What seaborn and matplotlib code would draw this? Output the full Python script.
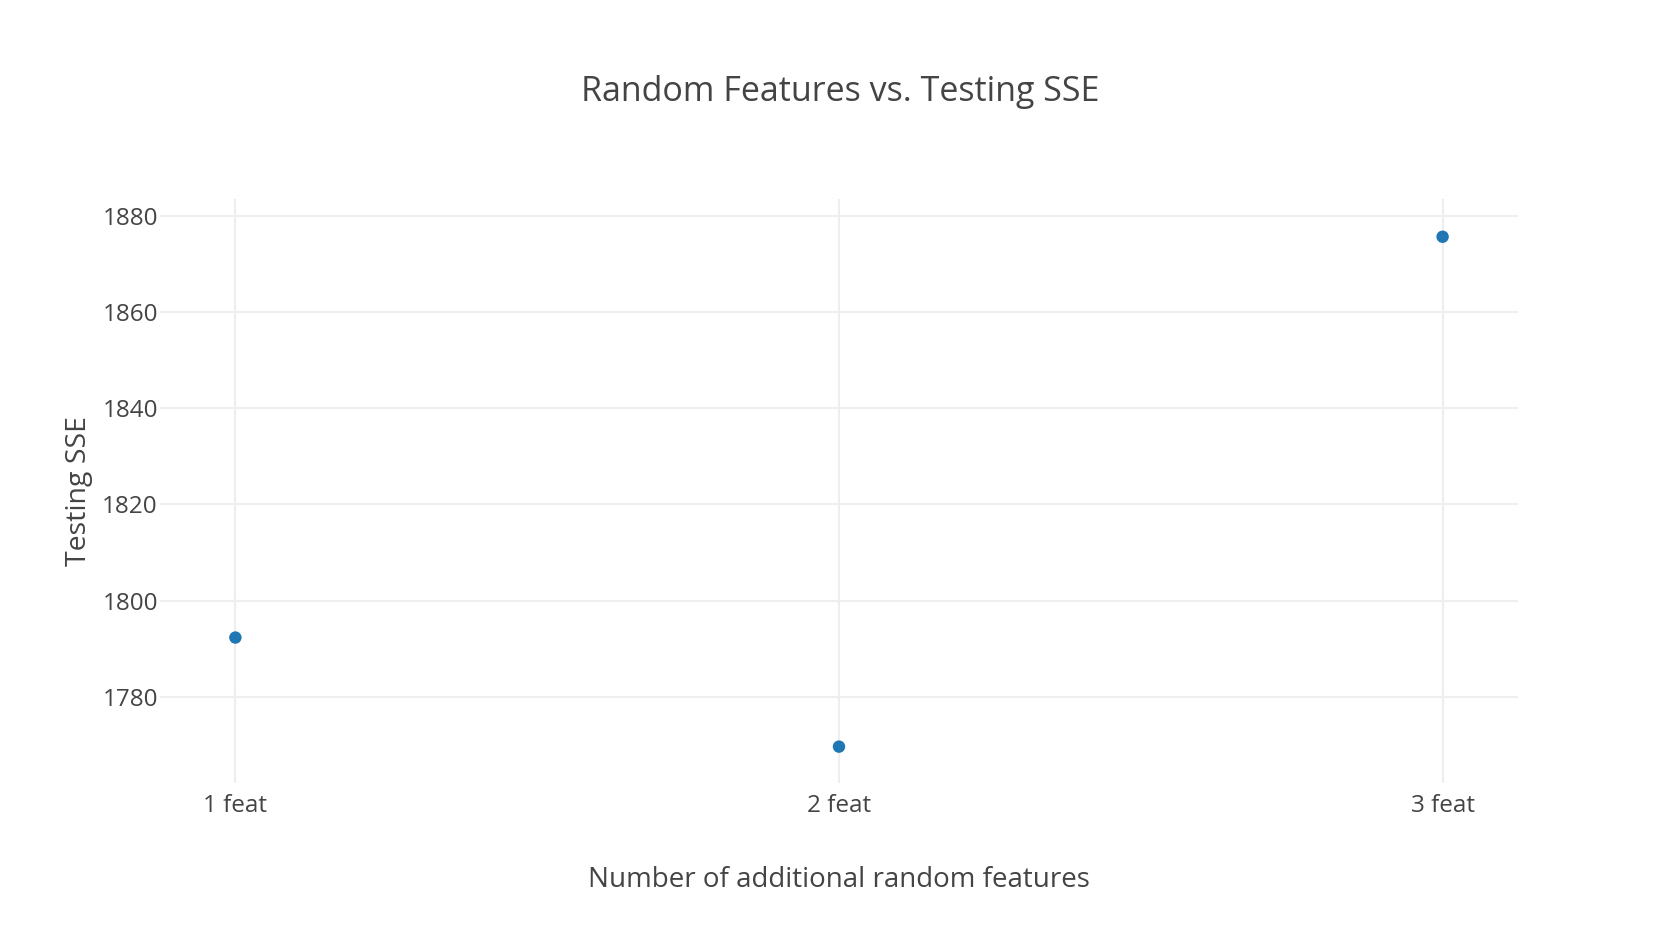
import pandas as pd
import seaborn as sns
import matplotlib.pyplot as plt

categories = ['1 feat', '2 feat', '3 feat']
testing_sse = [1792.3, 1769.6, 1875.7]
y_ticks = [1780, 1800, 1820, 1840, 1860, 1880]

sns.set_style('white')
plt.rcParams['font.family'] = ['Open Sans', 'DejaVu Sans']
text_color = '#444444'

df = pd.DataFrame({'Features': categories, 'Testing SSE': testing_sse})

fig = plt.figure(figsize=(16.8, 9.43), dpi=100)
ax = fig.add_axes([0.0952, 0.170, 0.8084, 0.6187])

sns.scatterplot(df, x='Features', y='Testing SSE', ax=ax, color='#1f77b4',
                s=80, edgecolor='none', zorder=3)

ax.set_xlim(-0.125, 2.125)
ax.set_ylim(1762.1, 1883.5)
ax.set_yticks(y_ticks)
ax.grid(True, color='#eeeeee', linewidth=1.5, zorder=0)
for spine in ax.spines.values():
    spine.set_visible(False)
ax.tick_params(axis='both', length=0, labelsize=17.5, labelcolor=text_color)
ax.tick_params(axis='x', pad=8)
ax.tick_params(axis='y', pad=1.5)

ax.set_xlabel('Number of additional random features', fontsize=20, color=text_color, labelpad=35)
ax.set_ylabel('Testing SSE', fontsize=20.5, color=text_color, labelpad=7)
fig.text(0.5, 1 - 92 / 943, 'Random Features vs. Testing SSE', ha='center', va='center',
         fontsize=24.5, color=text_color)

fig.savefig('out.png', dpi=100)
